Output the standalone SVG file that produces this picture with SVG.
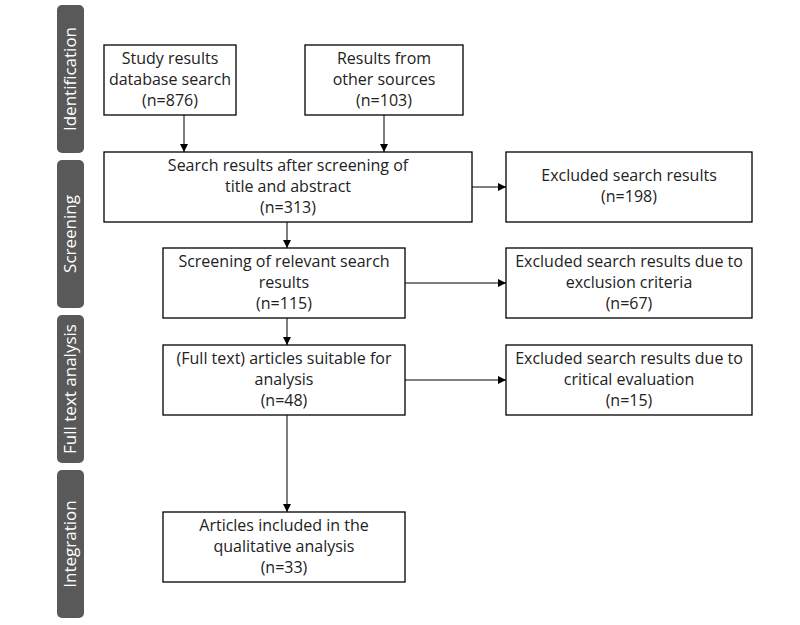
<svg xmlns="http://www.w3.org/2000/svg" width="800" height="625" viewBox="0 0 800 625">
<defs>
<marker id="a" markerWidth="8" markerHeight="8" refX="8" refY="4" orient="auto" markerUnits="userSpaceOnUse"><path d="M0,0 L8,4 L0,8 z" fill="#000"/></marker>
<style>
.b{fill:#fff;stroke:#000;stroke-width:1.3}
.t{font-family:"Open Sans","DejaVu Sans",sans-serif;font-size:16px;text-anchor:middle;fill:#222}
.s{fill:#595959}
.st{font-family:"Open Sans","DejaVu Sans",sans-serif;font-size:17px;text-anchor:middle;fill:#fff}
.c{stroke:#000;stroke-width:1;fill:none;marker-end:url(#a)}
</style>
</defs>
<rect width="800" height="625" fill="#fff"/>
<g id="phases">
<rect class="s" x="57" y="5" width="27" height="148" rx="5"/>
<text class="st" transform="translate(76,79) rotate(-90)">Identification</text>
<rect class="s" x="57" y="160" width="27" height="148" rx="5"/>
<text class="st" transform="translate(76,234) rotate(-90)">Screening</text>
<rect class="s" x="57" y="315" width="27" height="148" rx="5"/>
<text class="st" transform="translate(76,389) rotate(-90)">Full text analysis</text>
<rect class="s" x="57" y="470" width="27" height="148" rx="5"/>
<text class="st" transform="translate(76,544) rotate(-90)">Integration</text>
</g>
<g id="connectors">
<path class="c" d="M184,115 V152"/>
<path class="c" d="M384,115 V152"/>
<path class="c" d="M472,187 H506"/>
<path class="c" d="M287,222 V248"/>
<path class="c" d="M405,283 H506"/>
<path class="c" d="M287,318 V345"/>
<path class="c" d="M405,380 H506"/>
<path class="c" d="M287,415 V512"/>
</g>
<g id="n1"><rect class="b" x="104" y="45" width="132" height="70"/>
<text class="t" x="170" y="64">Study results</text><text class="t" x="170" y="85">database search</text><text class="t" x="170" y="106">(n=876)</text></g>
<g id="n2"><rect class="b" x="305" y="45" width="158" height="70"/>
<text class="t" x="384" y="64">Results from</text><text class="t" x="384" y="85">other sources</text><text class="t" x="384" y="106">(n=103)</text></g>
<g id="n3"><rect class="b" x="104" y="152" width="368" height="70"/>
<text class="t" x="288" y="171">Search results after screening of</text><text class="t" x="288" y="192">title and abstract</text><text class="t" x="288" y="213">(n=313)</text></g>
<g id="n4"><rect class="b" x="506" y="152" width="246" height="70"/>
<text class="t" x="629" y="181">Excluded search results</text><text class="t" x="629" y="202">(n=198)</text></g>
<g id="n5"><rect class="b" x="163" y="248" width="242" height="70"/>
<text class="t" x="284" y="267">Screening of relevant search</text><text class="t" x="284" y="288">results</text><text class="t" x="284" y="309">(n=115)</text></g>
<g id="n6"><rect class="b" x="506" y="248" width="246" height="70"/>
<text class="t" x="629" y="267">Excluded search results due to</text><text class="t" x="629" y="288">exclusion criteria</text><text class="t" x="629" y="309">(n=67)</text></g>
<g id="n7"><rect class="b" x="163" y="345" width="242" height="70"/>
<text class="t" x="284" y="364">(Full text) articles suitable for</text><text class="t" x="284" y="385">analysis</text><text class="t" x="284" y="406">(n=48)</text></g>
<g id="n8"><rect class="b" x="506" y="345" width="246" height="70"/>
<text class="t" x="629" y="364">Excluded search results due to</text><text class="t" x="629" y="385">critical evaluation</text><text class="t" x="629" y="406">(n=15)</text></g>
<g id="n9"><rect class="b" x="163" y="512" width="242" height="70"/>
<text class="t" x="284" y="531">Articles included in the</text><text class="t" x="284" y="552">qualitative analysis</text><text class="t" x="284" y="573">(n=33)</text></g>
</svg>
